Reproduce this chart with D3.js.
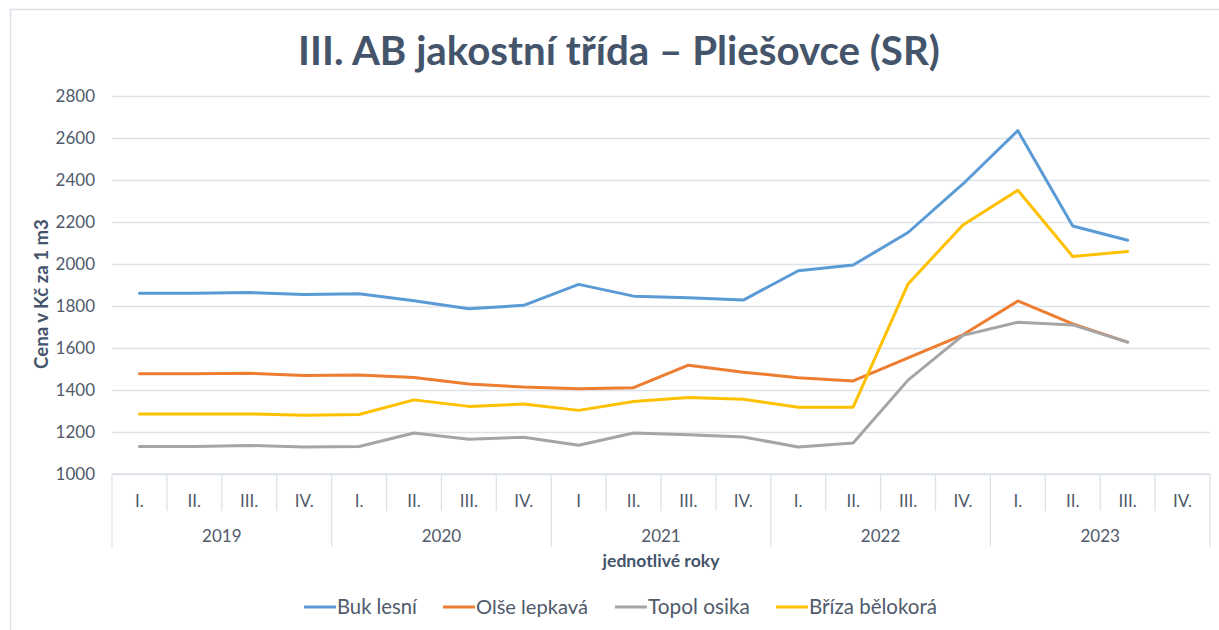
<!DOCTYPE html>
<html lang="cs">
<head>
<meta charset="UTF-8">
<title>III. AB jakostní třída – Pliešovce (SR)</title>
<style>
    body { margin: 0; background: #fff; }
    svg { display: block; font-family: Lato, "Open Sans", sans-serif; }
</style>
</head>
<body>
<script src="https://d3js.org/d3.v7.min.js"></script>
<script>
    const width = 1219
    const height = 630

    // data
    const years = ['2019', '2020', '2021', '2022', '2023']
    const quarterLabels = [
        'I.', 'II.', 'III.', 'IV.',
        'I.', 'II.', 'III.', 'IV.',
        'I', 'II.', 'III.', 'IV.',
        'I.', 'II.', 'III.', 'IV.',
        'I.', 'II.', 'III.', 'IV.'
    ]
    const seriesNames = ['Buk lesní', 'Olše lepkavá', 'Topol osika', 'Bříza bělokorá']
    const buk = [1861, 1861, 1864, 1855, 1858, 1825, 1787, 1803, 1903, 1847, 1839, 1828, 1968, 1995, 2150, 2381, 2635, 2181, 2113, null]
    const olse = [1477, 1477, 1480, 1469, 1472, 1459, 1429, 1414, 1406, 1411, 1518, 1485, 1458, 1443, 1553, 1663, 1824, 1715, 1628, null]
    const topol = [1131, 1131, 1136, 1128, 1131, 1195, 1166, 1175, 1137, 1195, 1187, 1176, 1129, 1148, 1447, 1660, 1723, 1710, 1628, null]
    const briza = [1286, 1286, 1286, 1280, 1283, 1353, 1322, 1333, 1303, 1345, 1364, 1356, 1318, 1318, 1905, 2186, 2351, 2036, 2060, null]
    const yTicks = [1000, 1200, 1400, 1600, 1800, 2000, 2200, 2400, 2600, 2800]

    const colors = ['#5b9bd5', '#ed7d31', '#a5a5a5', '#ffc000']
    const textColor = '#505a6b'
    const titleColor = '#44546a'
    const gridColor = '#dde2ea'

    const series = [buk, olse, topol, briza]
    const idx = d3.range(quarterLabels.length)

    const plotLeft = 112
    const plotRight = 1210
    const plotTop = 96
    const plotBottom = 474

    const x = d3.scaleBand().domain(idx).range([plotLeft, plotRight]).padding(0)
    const y = d3.scaleLinear().domain([1000, 2800]).range([plotBottom, plotTop])
    const cx = i => x(i) + x.bandwidth() / 2

    const svg = d3.select('body').append('svg')
        .attr('width', width)
        .attr('height', height)

    // chart frame
    svg.append('rect')
        .attr('x', 10.5).attr('y', 9.5)
        .attr('width', width + 10).attr('height', height + 10)
        .attr('fill', 'none')
        .attr('stroke', '#dbe0e7')
        .attr('stroke-width', 1.5)

    drawTitle()
    drawGrid()
    drawCategoryAxis()
    drawLines()
    drawLegend()

    // scale font so the text is as wide as in the picture
    function fitText(sel, targetWidth) {
        const w = sel.node().getComputedTextLength()
        const fs = parseFloat(sel.attr('font-size'))
        sel.attr('font-size', fs * targetWidth / w)
    }

    function drawTitle() {
        const t = svg.append('text')
            .attr('x', 619)
            .attr('y', 65)
            .attr('text-anchor', 'middle')
            .attr('font-size', 36)
            .attr('font-weight', 'bold')
            .attr('fill', titleColor)
            .text('III. AB jakostní třída – Pliešovce (SR)')
        fitText(t, 642)
    }

    function drawGrid() {
        const yAxis = d3.axisLeft(y)
            .tickValues(yTicks)
            .tickSize(-(plotRight - plotLeft))
            .tickPadding(17)
            .tickFormat(d3.format('d'))

        const g = svg.append('g')
            .attr('transform', `translate(${plotLeft},0)`)
            .call(yAxis)
        g.select('.domain').remove()
        g.selectAll('.tick line')
            .attr('stroke', gridColor)
            .attr('stroke-width', 1.3)
        g.selectAll('.tick text')
            .attr('fill', textColor)
            .attr('font-size', 17)
            .attr('font-family', 'Lato, sans-serif')

        const t = svg.append('text')
            .attr('transform', `translate(48,${294}) rotate(-90)`)
            .attr('text-anchor', 'middle')
            .attr('font-size', 15)
            .attr('font-weight', 'bold')
            .attr('fill', titleColor)
            .text('Cena v Kč za 1 m3')
        fitText(t, 150)
    }

    function drawCategoryAxis() {
        const g = svg.append('g').attr('class', 'cat-axis')
        const rowQ = 511
        const rowY = 547

        g.append('line')
            .attr('x1', plotLeft).attr('x2', plotRight)
            .attr('y1', plotBottom).attr('y2', plotBottom)
            .attr('stroke', gridColor).attr('stroke-width', 1.5)

        // separators
        d3.range(quarterLabels.length + 1).forEach(i => {
            const xx = i < quarterLabels.length ? x(i) : plotRight
            const isYear = i % 4 === 0
            g.append('line')
                .attr('x1', xx).attr('x2', xx)
                .attr('y1', plotBottom).attr('y2', isYear ? rowY : rowQ)
                .attr('stroke', gridColor).attr('stroke-width', 1.3)
        })

        g.selectAll('text.q')
            .data(quarterLabels)
            .join('text')
            .attr('class', 'q')
            .attr('x', (_, i) => cx(i))
            .attr('y', 507)
            .attr('text-anchor', 'middle')
            .attr('font-size', 17)
            .attr('fill', textColor)
            .text(d => d)

        g.selectAll('text.yr')
            .data(years)
            .join('text')
            .attr('class', 'yr')
            .attr('x', (_, i) => (x(i * 4) + (i * 4 + 4 < quarterLabels.length ? x(i * 4 + 4) : plotRight)) / 2)
            .attr('y', 542)
            .attr('text-anchor', 'middle')
            .attr('font-size', 17)
            .attr('fill', textColor)
            .text(d => d)

        const t = svg.append('text')
            .attr('x', 661)
            .attr('y', 567)
            .attr('text-anchor', 'middle')
            .attr('font-size', 15)
            .attr('font-weight', 'bold')
            .attr('fill', titleColor)
            .text('jednotlivé roky')
        fitText(t, 117)
    }

    function drawLines() {
        const line = d3.line()
            .defined(d => d != null)
            .x((_, i) => cx(i))
            .y(d => y(d))

        svg.append('g')
            .selectAll('path')
            .data(series)
            .join('path')
            .attr('d', line)
            .attr('fill', 'none')
            .attr('stroke', (_, i) => colors[i])
            .attr('stroke-width', 3)
            .attr('stroke-linejoin', 'round')
            .attr('stroke-linecap', 'round')
    }

    function drawLegend() {
        const g = svg.append('g').attr('class', 'legend')
        const starts = [304, 443, 615, 776]
        const textWidths = [80, 112, 102, 128]
        seriesNames.forEach((name, i) => {
            g.append('line')
                .attr('x1', starts[i]).attr('x2', starts[i] + 32)
                .attr('y1', 607).attr('y2', 607)
                .attr('stroke', colors[i])
                .attr('stroke-width', 3)
            const t = g.append('text')
                .attr('x', starts[i] + 33)
                .attr('y', 614)
                .attr('font-size', 17)
                .attr('fill', textColor)
                .text(name)
            fitText(t, textWidths[i])
        })
    }
</script>
</body>
</html>
